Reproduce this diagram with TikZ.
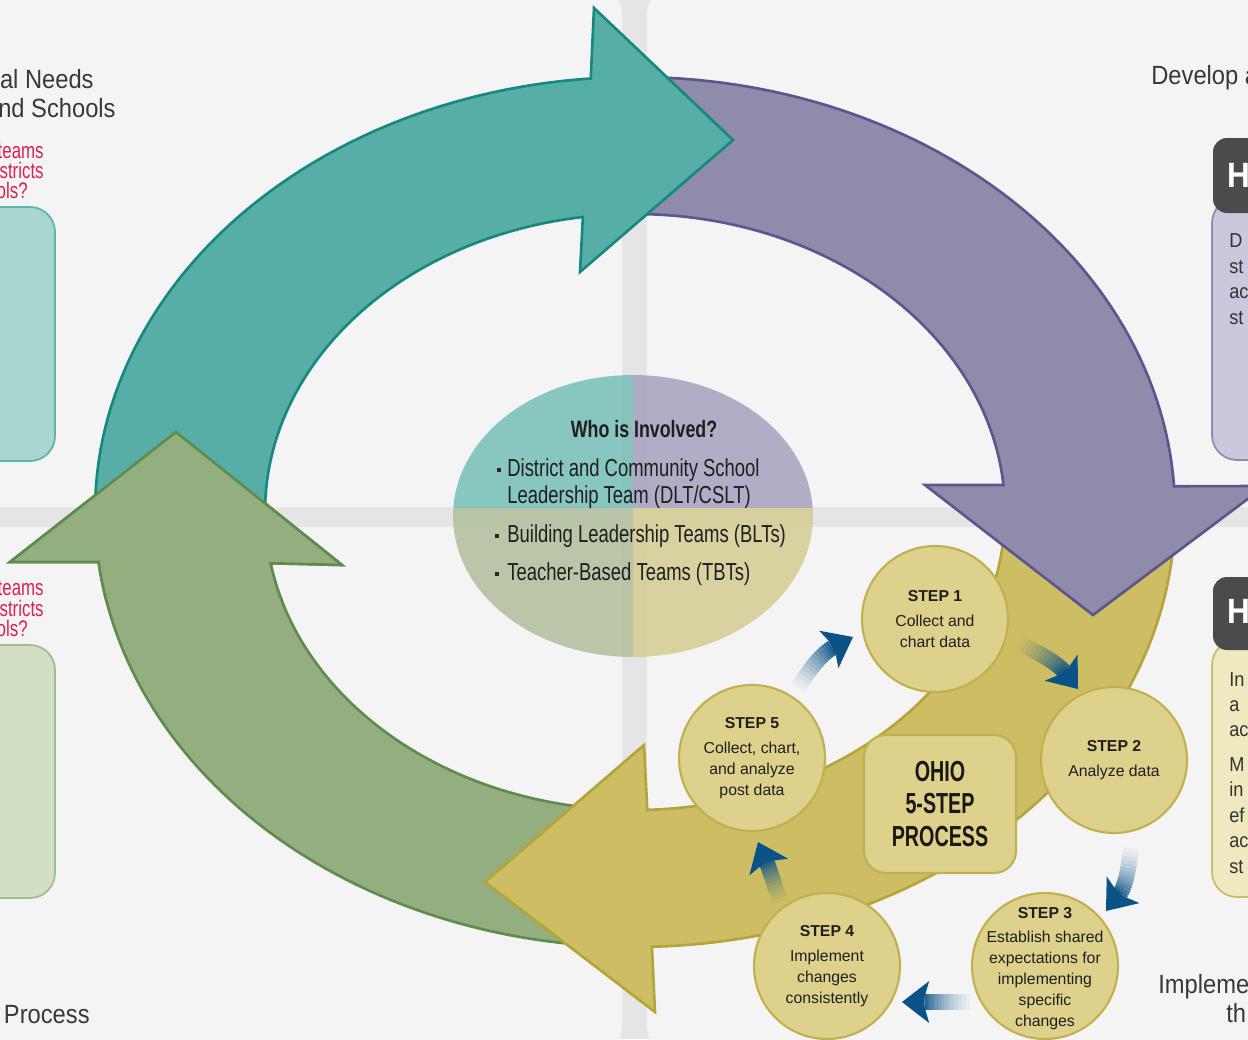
\documentclass[tikz,border=0pt]{standalone}
\usepackage{fontspec}
\setmainfont{Liberation Sans}
\newfontfamily\condf[FakeStretch=0.75]{Liberation Sans}
\newfontfamily\ohiof[FakeStretch=0.68]{Liberation Sans}
\newfontfamily\labf[FakeStretch=0.9]{Liberation Sans}
\usetikzlibrary{calc}
\definecolor{bgband}{HTML}{E5E5E5}
\definecolor{panel}{HTML}{F4F4F4}
\definecolor{tealF}{HTML}{56AEA7}
\definecolor{tealD}{HTML}{16897C}
\definecolor{purpF}{HTML}{8F8BAA}
\definecolor{purpD}{HTML}{5B5590}
\definecolor{oliveF}{HTML}{CDBE63}
\definecolor{oliveD}{HTML}{B4A53A}
\definecolor{greenF}{HTML}{93AF80}
\definecolor{greenD}{HTML}{5F8C4C}
\definecolor{stepF}{HTML}{DDD18C}
\definecolor{stepD}{HTML}{C0B150}
\definecolor{arrowblue}{HTML}{0B5287}
\definecolor{redtxt}{HTML}{DB2055}
\definecolor{labtxt}{HTML}{383838}
\definecolor{ellTL}{RGB}{118,190,183}
\definecolor{ellTR}{RGB}{166,161,191}
\definecolor{ellBL}{RGB}{176,191,154}
\definecolor{ellBR}{RGB}{212,205,146}
\definecolor{boxTealF}{HTML}{AAD6D0}
\definecolor{boxTealD}{HTML}{5DB4A8}
\definecolor{boxGreenF}{HTML}{D3DFC5}
\definecolor{boxGreenD}{HTML}{9FBE8B}
\definecolor{boxPurpF}{HTML}{CAC8DC}
\definecolor{boxPurpD}{HTML}{8F8BB0}
\definecolor{boxOlvF}{HTML}{EFE9C0}
\definecolor{boxOlvD}{HTML}{C8BC6E}
\definecolor{darkbox}{HTML}{4B4B4B}

\newcommand{\fadearrow}[4]{% tail, ctrl, tip, base-name
  \coordinate (#4) at ($(#3)!12pt!(#2)$);
  \coordinate (#4k) at ($(#3)!15.5pt!(#2)$);
  \foreach \k in {0,...,15}{%
    \pgfmathsetmacro{\ta}{\k/16}%
    \pgfmathsetmacro{\tb}{(\k+1)/16}%
    \pgfmathsetmacro{\op}{((\k+1)/16)^1.2}%
    \draw[line width=9pt, draw=arrowblue, draw opacity=\op]
      ($($(#1)!\ta!(#2)$)!\ta!($(#2)!\ta!(#4)$)$) --
      ($($(#1)!\tb!(#2)$)!\tb!($(#2)!\tb!(#4)$)$);
  }%
  \fill[arrowblue] (#3) -- ($(#4k)!12pt!90:(#3)$) -- (#4) -- ($(#4k)!12pt!-90:(#3)$) -- cycle;
}

\tikzset{
  bigarrow/.style={line width=1.5pt, line join=miter},
  stepc/.style={circle, draw=stepD, fill=stepF, line width=1.2pt,
    minimum size=2.92cm, inner sep=0pt},
  steptxt/.style={inner sep=0pt, align=center, text=black!88,
    font=\fontsize{9}{11.9}\selectfont},
  lab/.style={inner sep=0pt, text=labtxt, font=\labf\fontsize{15}{18}\selectfont},
  redq/.style={inner sep=0pt, text=redtxt, font=\condf\fontsize{12.8}{15}\selectfont},
  boxtxt/.style={inner sep=0pt, text=black!80, font=\labf\fontsize{11.5}{14}\selectfont},
  htxt/.style={inner sep=0pt, text=white, font=\labf\bfseries\fontsize{20}{24}\selectfont},
  whotxt/.style={inner sep=0pt, text=black!88, font=\condf\fontsize{14}{17}\selectfont},
  bul/.style={fill=black!85, inner sep=0pt, minimum size=2.6pt},
}

\begin{document}
\begin{tikzpicture}[x=0.02cm, y=-0.02cm]
\useasboundingbox (0,0) rectangle (1248,1039);

% background and panels
\fill[bgband] (0,0) rectangle (1248,1039);
\fill[panel, rounded corners=0.5cm] (-40,-12) rectangle (622,507);
\fill[panel, rounded corners=0.5cm] (647,-12) rectangle (1290,507);
\fill[panel, rounded corners=0.5cm] (-40,527) rectangle (622,1052);
\fill[panel, rounded corners=0.5cm] (647,527) rectangle (1290,1052);

% side boxes
\filldraw[fill=boxTealF, draw=boxTealD, line width=1pt, rounded corners=0.5cm] (-40,207) rectangle (55,461);
\filldraw[fill=boxGreenF, draw=boxGreenD, line width=1pt, rounded corners=0.5cm] (-40,645) rectangle (55,898);
\filldraw[fill=boxPurpF, draw=boxPurpD, line width=1pt, rounded corners=0.5cm] (1212,198) rectangle (1300,460);
\fill[darkbox, rounded corners=0.28cm] (1213,138) rectangle (1300,213);
\filldraw[fill=boxOlvF, draw=boxOlvD, line width=1pt, rounded corners=0.5cm] (1212,640) rectangle (1300,897);
\fill[darkbox, rounded corners=0.28cm] (1213,577) rectangle (1300,650);

% side texts
\node[lab, anchor=base east] (l1) at (94,88) {al Needs};
\node[lab, anchor=base east] (l2) at (116,117) {nd Schools};
\node[redq, anchor=base east] (r1) at (44,158) {teams};
\node[redq, anchor=base east] (r2) at (44,178) {stricts};
\node[redq, anchor=base east] (r3) at (28,198) {ols?};
\node[redq, anchor=base east] (r4) at (44,595) {teams};
\node[redq, anchor=base east] (r5) at (44,616) {stricts};
\node[redq, anchor=base east] (r6) at (28,636) {ols?};
\node[lab, anchor=base east] (l3) at (90,1023) {Process};
\node[lab, anchor=base west] (l4) at (1151,84) {Develop a};
\node[lab, anchor=base west] (l5) at (1158,993) {Impleme};
\node[lab, anchor=base west] (l6) at (1226,1022) {th};
\node[htxt, anchor=base west] (h1) at (1227,187) {H};
\node[htxt, anchor=base west] (h2) at (1227,623) {H};
\node[boxtxt, anchor=base west] (p1) at (1229,247) {D};
\node[boxtxt, anchor=base west] (p2) at (1229,273) {st};
\node[boxtxt, anchor=base west] (p3) at (1229,298) {ac};
\node[boxtxt, anchor=base west] (p4) at (1229,324) {st};
\node[boxtxt, anchor=base west] (o1) at (1229,686) {In};
\node[boxtxt, anchor=base west] (o2) at (1229,711) {a};
\node[boxtxt, anchor=base west] (o3) at (1229,736) {ac};
\node[boxtxt, anchor=base west] (o4) at (1229,771) {M};
\node[boxtxt, anchor=base west] (o5) at (1229,796) {in};
\node[boxtxt, anchor=base west] (o6) at (1229,822) {ef};
\node[boxtxt, anchor=base west] (o7) at (1229,847) {ac};
\node[boxtxt, anchor=base west] (o8) at (1229,873) {st};

% central ellipse
\begin{scope}
  \clip (633,516) ellipse [x radius=3.6cm, y radius=2.82cm];
  \fill[ellTL, opacity=.85] (440,360) rectangle (633,508);
  \fill[ellTR, opacity=.85] (633,360) rectangle (830,508);
  \fill[ellBL, opacity=.85] (440,508) rectangle (633,670);
  \fill[ellBR, opacity=.85] (633,508) rectangle (830,670);
\end{scope}
\node[whotxt, font=\condf\bfseries\fontsize{13.5}{16}\selectfont, anchor=base] (who) at (644,437) {Who is Involved?};
\node[bul] (b1) at (499,470) {};
\node[whotxt, anchor=base west] (w1) at (507,476) {District and Community School};
\node[whotxt, anchor=base west] (w2) at (507,503) {Leadership Team (DLT/CSLT)};
\node[bul] (b2) at (497,536) {};
\node[whotxt, anchor=base west] (w3) at (507,542) {Building Leadership Teams (BLTs)};
\node[bul] (b3) at (497,574) {};
\node[whotxt, anchor=base west] (w4) at (507,580) {Teacher-Based Teams (TBTs)};

% big cycle arrows
\filldraw[bigarrow, fill=greenF, draw=greenD]
  plot[domain=94:173.4, samples=60] ({635+540*cos(\x)},{512+435*sin(\x)})
  -- (10,562) -- (176,432) -- (342,565)
  -- plot[domain=170.1:94, samples=60] ({635+370*cos(\x)},{512+298*sin(\x)}) -- cycle;
\filldraw[bigarrow, fill=oliveF, draw=oliveD]
  plot[domain=4:88.2, samples=60] ({635+540*cos(\x)},{512+435*sin(\x)})
  -- (655,1012) -- (485,882) -- (644,745)
  -- plot[domain=88.1:4, samples=60] ({635+370*cos(\x)},{512+298*sin(\x)}) -- cycle;
\filldraw[bigarrow, fill=purpF, draw=purpD]
  plot[domain=270.5:356.6, samples=60] ({635+540*cos(\x)},{512+435*sin(\x)})
  -- (1265,486) -- (1093,615) -- (925,485)
  -- plot[domain=354.8:270.5, samples=60] ({635+370*cos(\x)},{512+298*sin(\x)}) -- cycle;
\filldraw[bigarrow, fill=tealF, draw=tealD]
  plot[domain=176:265.3, samples=60] ({635+540*cos(\x)},{512+435*sin(\x)})
  -- (594,8) -- (733,140) -- (580,272)
  -- plot[domain=261.9:176, samples=60] ({635+370*cos(\x)},{512+298*sin(\x)}) -- cycle;
\begin{scope}
  \clip (0,400) rectangle (380,600);
  \filldraw[bigarrow, fill=greenF, draw=greenD]
    plot[domain=94:173.4, samples=60] ({635+540*cos(\x)},{512+435*sin(\x)})
    -- (10,562) -- (176,432) -- (342,565)
    -- plot[domain=170.1:94, samples=60] ({635+370*cos(\x)},{512+298*sin(\x)}) -- cycle;
\end{scope}

% step circles
\node[stepc] (s1) at (935,619) {};
\node[stepc] (s2) at (1114,760) {};
\node[stepc] (s3) at (1045,966) {};
\node[stepc] (s4) at (827,966) {};
\node[stepc] (s5) at (752,758) {};
\node[steptxt] (t1) at (s1.center) {\textbf{STEP 1}\\[2.3pt]Collect and\\chart data};
\node[steptxt] (t2) at (s2.center) {\textbf{STEP 2}\\[2.3pt]Analyze data};
\node[steptxt] (t3) at ([yshift=-1.5pt]s3.center) {\textbf{STEP 3}\\[1.5pt]Establish shared\\expectations for\\implementing\\specific\\changes};
\node[steptxt] (t4) at (s4.center) {\textbf{STEP 4}\\[2.3pt]Implement\\changes\\consistently};
\node[steptxt] (t5) at (s5.center) {\textbf{STEP 5}\\[2.3pt]Collect, chart,\\and analyze\\post data};
\node[draw=stepD, fill=stepF, line width=1.2pt, rounded corners=0.44cm,
  minimum width=3.04cm, minimum height=2.76cm, align=center, text=black!90,
  font=\ohiof\bfseries\fontsize{16.5}{18.7}\selectfont] (ohio) at (940,804) {OHIO\\5-STEP\\PROCESS};

% blue connectors between steps
\coordinate (a1t) at (798,688);
\coordinate (a1c) at (818,655);
\coordinate (a1h) at (853,637);
\coordinate (a2t) at (1020,644);
\coordinate (a2c) at (1055,660);
\coordinate (a2h) at (1078,689);
\coordinate (a3t) at (1131,848);
\coordinate (a3c) at (1127,885);
\coordinate (a3h) at (1106,911);
\coordinate (a4t) at (970,1002);
\coordinate (a4c) at (935,1002);
\coordinate (a4h) at (902,1002);
\coordinate (a5t) at (780,902);
\coordinate (a5c) at (770,870);
\coordinate (a5h) at (758,842);
\fadearrow{a1t}{a1c}{a1h}{a1b}
\fadearrow{a2t}{a2c}{a2h}{a2b}
\fadearrow{a3t}{a3c}{a3h}{a3b}
\fadearrow{a4t}{a4c}{a4h}{a4b}
\fadearrow{a5t}{a5c}{a5h}{a5b}
\end{tikzpicture}
\end{document}
